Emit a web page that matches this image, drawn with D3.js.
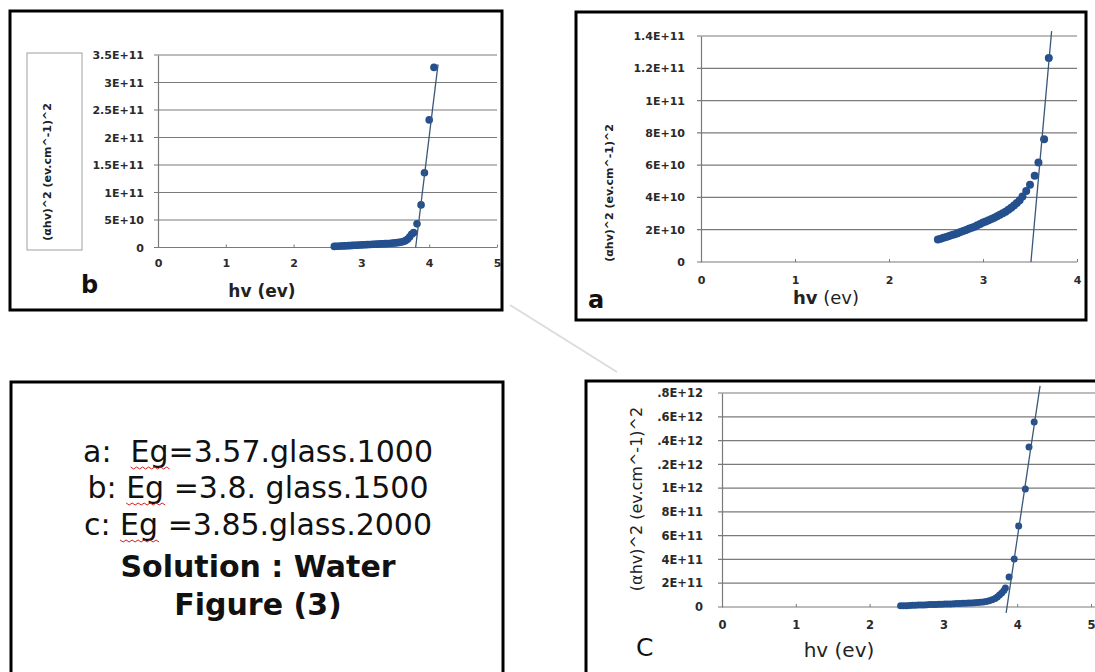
<!DOCTYPE html>
<html>
<head>
<meta charset="utf-8">
<script src="https://cdnjs.cloudflare.com/ajax/libs/d3/7.8.5/d3.min.js"></script>
<style>
  body { margin: 0; background: #fff; }
  svg { display: block; }
  .tick text { font-family: "DejaVu Sans", sans-serif; font-weight: bold; fill: #2a2a2a; }
</style>
</head>
<body>
<div id="chart"></div>
<script>
// panel b : glass 1500
var bX = [2.60,2.63,2.66,2.69,2.72,2.75,2.78,2.81,2.84,2.87,2.90,2.93,2.96,2.99,3.02,3.05,3.08,3.11,3.14,3.17,3.20,3.23,3.26,3.29,3.32,3.35,3.38,3.41,3.44,3.47,3.50,3.53,3.56,3.59,3.62,3.65,3.68,3.71,3.74,3.77,3.82,3.88,3.93,4.00,4.07];
var bY = [0.20,0.22,0.23,0.26,0.28,0.29,0.32,0.34,0.35,0.38,0.40,0.41,0.44,0.46,0.48,0.49,0.52,0.54,0.55,0.58,0.60,0.61,0.64,0.66,0.68,0.70,0.72,0.74,0.77,0.80,0.84,0.88,0.93,1.00,1.10,1.25,1.50,1.90,2.40,2.70,4.30,7.75,13.6,23.2,32.75]; // x1e10
var bFitX = [3.80, 4.13];
var bFitY = [0, 33.3]; // x1e10
var bYTicks = [0, 5e10, 1e11, 1.5e11, 2e11, 2.5e11, 3e11, 3.5e11];
var bYLabels = ["0", "5E+10", "1E+11", "1.5E+11", "2E+11", "2.5E+11", "3E+11", "3.5E+11"];
var bXTicks = [0, 1, 2, 3, 4, 5];

// panel a : glass 1000
var aX = [2.52,2.55,2.58,2.61,2.64,2.67,2.70,2.73,2.76,2.79,2.82,2.85,2.88,2.91,2.94,2.97,3.00,3.03,3.06,3.09,3.12,3.15,3.18,3.21,3.24,3.27,3.30,3.33,3.36,3.39,3.42,3.46,3.50,3.55,3.59,3.65,3.70];
var aY = [1.40,1.44,1.50,1.55,1.61,1.67,1.72,1.78,1.86,1.92,1.99,2.06,2.12,2.19,2.27,2.35,2.44,2.51,2.58,2.66,2.74,2.83,2.92,3.02,3.12,3.23,3.36,3.50,3.66,3.83,4.05,4.40,4.78,5.34,6.16,7.60,12.63]; // x1e10
var aFitX = [3.51, 3.73];
var aFitY = [0, 14.3]; // x1e10
var aYTicks = [0, 2e10, 4e10, 6e10, 8e10, 1e11, 1.2e11, 1.4e11];
var aYLabels = ["0", "2E+10", "4E+10", "6E+10", "8E+10", "1E+11", "1.2E+11", "1.4E+11"];
var aXTicks = [0, 1, 2, 3, 4];

// panel c : glass 2000
var cX = [2.42,2.46,2.50,2.54,2.58,2.62,2.66,2.70,2.74,2.78,2.82,2.86,2.90,2.94,2.98,3.02,3.06,3.10,3.14,3.18,3.22,3.26,3.30,3.34,3.38,3.42,3.46,3.50,3.54,3.58,3.62,3.66,3.70,3.73,3.76,3.79,3.82,3.84,3.89,3.96,4.02,4.11,4.16,4.23];
var cY = [0.10,0.11,0.11,0.13,0.14,0.14,0.16,0.17,0.17,0.19,0.20,0.20,0.22,0.23,0.23,0.25,0.26,0.26,0.28,0.29,0.29,0.31,0.32,0.33,0.34,0.35,0.37,0.39,0.42,0.46,0.52,0.60,0.72,0.85,1.00,1.18,1.38,1.60,2.52,4.04,6.81,9.92,13.46,15.56]; // x1e11
var cFitX = [3.85, 4.31];
var cFitY = [-0.5, 18.6]; // x1e11
var cYTicks = [0, 2e11, 4e11, 6e11, 8e11, 1e12, 1.2e12, 1.4e12, 1.6e12, 1.8e12];
var cYLabels = ["0", "2E+11", "4E+11", "6E+11", "8E+11", "1E+12", ".2E+12", ".4E+12", ".6E+12", ".8E+12"];
var cXTicks = [0, 1, 2, 3, 4, 5];

var noteLines = ["a:  Eg=3.57.glass.1000", "b: Eg =3.8. glass.1500", "c: Eg =3.85.glass.2000", "Solution : Water", "Figure (3)"];

var width = 1095, height = 672;
var yTitle = "(\u03b1hv)^2 (ev.cm^-1)^2";
var markColor = "#24508e";

var svg = d3.select("#chart").append("svg")
  .attr("width", width).attr("height", height);

// faint connector line
svg.append("line")
  .attr("x1", 510).attr("y1", 305).attr("x2", 617).attr("y2", 372)
  .attr("stroke", "#dcdcdc").attr("stroke-width", 2);

function drawPanel(o) {
  var g = svg.append("g");
  var x = d3.scaleLinear().domain(o.xDomain).range(o.xRange);
  var y = d3.scaleLinear().domain(o.yDomain).range(o.yRange);

  // gridlines
  g.selectAll(".grid").data(o.yTicks).enter().append("line")
    .attr("x1", x(0) - 4).attr("x2", o.gridEnd)
    .attr("y1", function(d) { return y(d); }).attr("y2", function(d) { return y(d); })
    .attr("stroke", "#7a7a7a").attr("stroke-width", 1.2);

  // y axis
  var yAxis = d3.axisLeft(y).tickValues(o.yTicks)
    .tickFormat(function(d, i) { return o.yLabels[i]; })
    .tickSize(0).tickPadding(o.yPad);
  var ya = g.append("g").attr("transform", "translate(" + x(0) + ",0)").call(yAxis);
  ya.select(".domain").attr("stroke", "#7a7a7a").attr("stroke-width", 1.2);
  ya.selectAll(".tick text").style("font-size", o.tickFont + "px");

  // x axis
  var xAxis = d3.axisBottom(x).tickValues(o.xTicks).tickFormat(d3.format("d"))
    .tickSizeInner(-3).tickSizeOuter(0).tickPadding(o.xPad);
  var xa = g.append("g").attr("transform", "translate(0," + y(0) + ")").call(xAxis);
  xa.select(".domain").remove();
  xa.selectAll(".tick line").attr("stroke", "#7a7a7a");
  xa.selectAll(".tick text").style("font-size", o.tickFont + "px");

  // points
  var pts = o.xs.map(function(v, i) { return [v, o.ys[i] * o.unit]; });
  g.selectAll(".pt").data(pts).enter().append("circle")
    .attr("cx", function(d) { return x(d[0]); })
    .attr("cy", function(d) { return y(d[1]); })
    .attr("r", o.r)
    .attr("fill", markColor);

  // fit line
  var fit = o.fitX.map(function(v, i) { return [v, o.fitY[i] * o.unit]; });
  g.append("path").datum(fit)
    .attr("d", d3.line().x(function(d) { return x(d[0]); }).y(function(d) { return y(d[1]); }))
    .attr("stroke", "#3b5878").attr("stroke-width", 1.3).attr("fill", "none");
  return g;
}

// ---- panel b
svg.append("rect").attr("x", 10).attr("y", 11).attr("width", 492).attr("height", 299)
  .attr("fill", "none").attr("stroke", "#000").attr("stroke-width", 3);
svg.append("rect").attr("x", 27).attr("y", 53).attr("width", 55).attr("height", 197)
  .attr("fill", "none").attr("stroke", "#a0a0a0").attr("stroke-width", 1);
drawPanel({xs: bX, ys: bY, unit: 1e10, fitX: bFitX, fitY: bFitY,
  xDomain: [0, 5], xRange: [158, 497], yDomain: [0, 3.5e11], yRange: [247.5, 55],
  yTicks: bYTicks, yLabels: bYLabels, xTicks: bXTicks, gridEnd: 497,
  tickFont: 11, yPad: 14, xPad: 12, r: 3.8});
svg.append("text").attr("transform", "translate(51,172) rotate(-90)")
  .attr("text-anchor", "middle").style("font", "bold 11px 'DejaVu Sans'").attr("fill", "#222")
  .text(yTitle);
svg.append("text").attr("x", 81).attr("y", 293)
  .style("font", "bold 24px 'DejaVu Sans'").attr("fill", "#111").text("b");
svg.append("text").attr("x", 262).attr("y", 297).attr("text-anchor", "middle")
  .style("font", "bold 17px 'DejaVu Sans'").attr("fill", "#222").text("hv (ev)");

// ---- panel a
svg.append("rect").attr("x", 576).attr("y", 12).attr("width", 510).attr("height", 308)
  .attr("fill", "none").attr("stroke", "#000").attr("stroke-width", 3);
drawPanel({xs: aX, ys: aY, unit: 1e10, fitX: aFitX, fitY: aFitY,
  xDomain: [0, 4], xRange: [701, 1077], yDomain: [0, 1.4e11], yRange: [262, 36],
  yTicks: aYTicks, yLabels: aYLabels, xTicks: aXTicks, gridEnd: 1077,
  tickFont: 11, yPad: 16, xPad: 14, r: 4});
svg.append("text").attr("transform", "translate(613,193) rotate(-90)")
  .attr("text-anchor", "middle").style("font", "bold 11px 'DejaVu Sans'").attr("fill", "#222")
  .text(yTitle);
svg.append("text").attr("x", 588).attr("y", 308)
  .style("font", "bold 24px 'DejaVu Sans'").attr("fill", "#111").text("a");
var at = svg.append("text").attr("x", 826).attr("y", 304).attr("text-anchor", "middle")
  .style("font", "18px 'DejaVu Sans'").attr("fill", "#222");
at.append("tspan").style("font-weight", "bold").text("hv");
at.append("tspan").text(" (ev)");

// ---- panel c
svg.append("rect").attr("x", 586).attr("y", 381).attr("width", 540).attr("height", 320)
  .attr("fill", "none").attr("stroke", "#000").attr("stroke-width", 3);
drawPanel({xs: cX, ys: cY, unit: 1e11, fitX: cFitX, fitY: cFitY,
  xDomain: [0, 5], xRange: [722, 1091], yDomain: [0, 1.8e12], yRange: [607, 393],
  yTicks: cYTicks, yLabels: cYLabels, xTicks: cXTicks, gridEnd: 1095,
  tickFont: 11.5, yPad: 19, xPad: 14, r: 3.5});
svg.append("text").attr("transform", "translate(642,499) rotate(-90)")
  .attr("text-anchor", "middle").style("font", "16px 'DejaVu Sans'").attr("fill", "#222")
  .text(yTitle);
svg.append("text").attr("x", 636).attr("y", 656)
  .style("font", "25px 'DejaVu Sans'").attr("fill", "#111").text("C");
svg.append("text").attr("x", 839).attr("y", 657).attr("text-anchor", "middle")
  .style("font", "20px 'DejaVu Sans'").attr("fill", "#222").text("hv (ev)");

// ---- note box
svg.append("rect").attr("x", 11).attr("y", 382).attr("width", 492).attr("height", 300)
  .attr("fill", "none").attr("stroke", "#000").attr("stroke-width", 3);
var baselines = [462, 498, 535, 577, 615];
noteLines.forEach(function(t, i) {
  var tx = svg.append("text").attr("x", 258).attr("y", baselines[i])
    .attr("text-anchor", "middle")
    .style("white-space", "pre")
    .style("font", (i > 2 ? "bold " : "") + "30px 'DejaVu Sans'")
    .attr("fill", "#111").text(t);
  if (i < 3) {
    // red spell-check squiggle under "Eg"
    var node = tx.node();
    var k = t.indexOf("Eg");
    var x0 = node.getStartPositionOfChar(k).x;
    var w = node.getSubStringLength(k, 2);
    var pts = [];
    for (var s = 0; s <= Math.round(w / 3); s++) pts.push([x0 + s * 3, baselines[i] + 5 + (s % 2 ? 2 : 0)]);
    svg.append("path").attr("d", d3.line()(pts))
      .attr("stroke", "#d02020").attr("stroke-width", 1).attr("fill", "none");
  }
});
</script>
</body>
</html>
